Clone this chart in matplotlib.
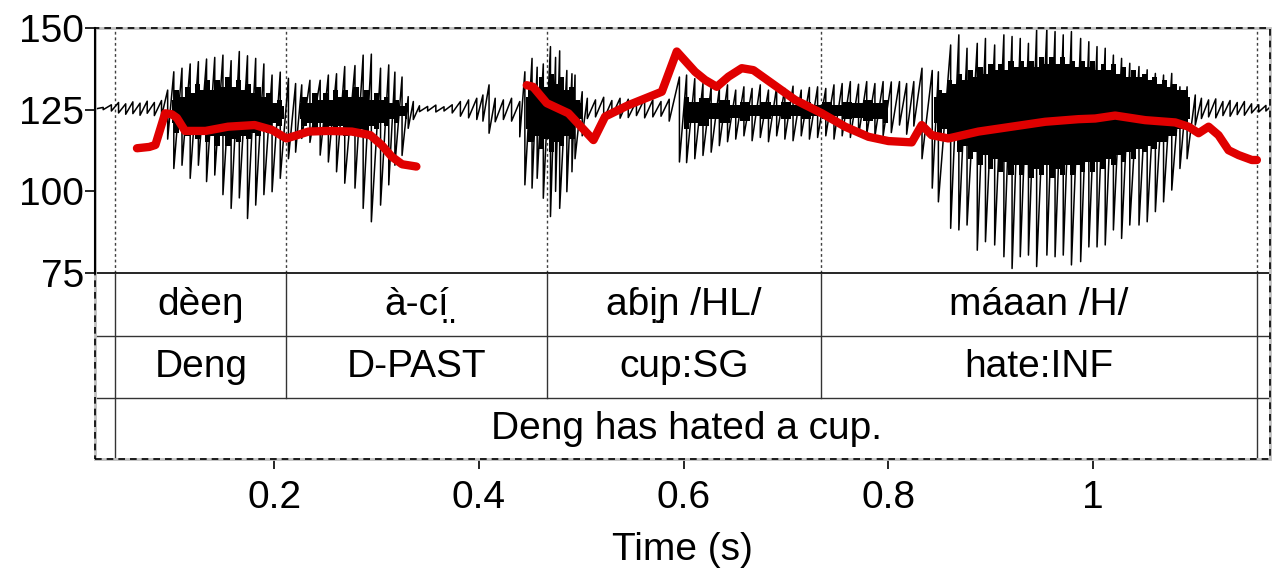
import numpy as np
import matplotlib
matplotlib.use("Agg")
import matplotlib.pyplot as plt
from matplotlib.patches import Rectangle

plt.rcParams['font.family'] = ['Liberation Sans', 'DejaVu Sans']

# --- waveform: spike extremes (time s, top, bottom) ---
wave_t = [0.025, 0.033, 0.041, 0.048, 0.055, 0.062, 0.069, 0.076, 0.083, 0.090,
          0.096, 0.102, 0.110, 0.118, 0.126, 0.134, 0.142, 0.150, 0.158, 0.166,
          0.174, 0.182, 0.190, 0.198, 0.206, 0.214, 0.221, 0.227, 0.235, 0.245,
          0.253, 0.261, 0.269, 0.279, 0.287, 0.295, 0.304, 0.312, 0.318, 0.325,
          0.331, 0.336,
          0.342, 0.350, 0.358, 0.366, 0.374, 0.382, 0.390, 0.398, 0.404, 0.410,
          0.416, 0.424, 0.432, 0.440,
          0.445, 0.452, 0.457, 0.463, 0.470, 0.475, 0.479, 0.486, 0.491, 0.494,
          0.501,
          0.506, 0.514, 0.522, 0.530, 0.538, 0.546, 0.554, 0.562, 0.570, 0.578,
          0.586,
          0.596, 0.603, 0.611, 0.619, 0.627, 0.635, 0.643, 0.651, 0.659, 0.667,
          0.675, 0.683, 0.691, 0.699, 0.707, 0.715, 0.723, 0.731, 0.739, 0.747,
          0.755, 0.763, 0.771, 0.779, 0.787, 0.795, 0.803,
          0.811, 0.818, 0.825, 0.833, 0.843, 0.849, 0.861, 0.869, 0.877, 0.887,
          0.895, 0.904, 0.913, 0.921, 0.929, 0.937, 0.945, 0.955, 0.963, 0.971,
          0.979, 0.988, 0.996, 1.004, 1.012, 1.020, 1.028, 1.036, 1.045, 1.053,
          1.061, 1.069, 1.077, 1.085, 1.092, 1.100,
          1.106, 1.113, 1.120, 1.127, 1.134, 1.141, 1.148, 1.155, 1.162, 1.169,
          1.173]
wave_hi = [125.5, 125.7, 126.5, 127.2, 126.8, 127.4, 127.0, 127.6, 127.2, 127.8,
           131.0, 136.6, 137.7, 139.0, 139.7, 140.5, 141.0, 141.7, 140.0, 142.8,
           141.5, 140.7, 139.0, 135.6, 136.5, 134.6, 133.0, 132.6, 134.0, 134.0,
           135.6, 136.0, 138.2, 138.5, 141.7, 142.0, 137.7, 138.7, 136.5, 135.0,
           129.0, 127.5,
           126.2, 126.0, 126.4, 125.9, 126.5, 127.5, 128.0, 128.5, 129.5, 132.6,
           128.5, 128.0, 128.5, 127.5,
           136.6, 140.7, 138.0, 139.0, 144.3, 141.0, 143.0, 137.0, 136.0, 135.6,
           130.5,
           128.5, 128.0, 128.8, 127.8, 128.5, 128.2, 127.6, 128.4, 128.0, 127.5,
           128.2,
           135.0, 135.6, 134.5, 133.0, 132.0, 131.5, 132.6, 131.0, 132.0, 131.5,
           132.6, 131.0, 132.0, 131.5, 132.2, 131.0, 131.8, 132.0, 131.5, 132.6,
           133.0, 133.6, 132.8, 133.6, 133.0, 133.6, 133.5,
           133.6, 133.0, 133.6, 137.7, 137.0, 136.6, 144.8, 147.9, 143.8, 145.3,
           146.8, 144.8, 147.9, 147.4, 146.8, 145.3, 149.4, 150.0, 148.9, 147.9,
           148.9, 146.8, 145.8, 144.3, 143.8, 141.7, 140.7, 139.2, 138.2, 137.2,
           136.1, 135.6, 136.1, 132.0, 132.0, 129.5,
           128.5, 128.0, 128.3, 127.5, 127.8, 127.2, 127.5, 126.8, 126.5, 126.3,
           125.8]
wave_lo = [125.2, 125.0, 124.6, 124.0, 123.6, 123.8, 123.3, 123.9, 123.2, 123.0,
           116.0, 107.0, 108.0, 104.0, 108.0, 103.0, 105.0, 99.0, 94.8, 98.0,
           91.7, 95.8, 99.0, 99.9, 104.0, 110.0, 112.0, 116.2, 115.0, 111.1,
           109.0, 106.0, 102.5, 101.0, 94.8, 90.7, 95.8, 102.0, 108.0, 111.0,
           119.3, 122.0,
           124.4, 124.6, 124.3, 124.6, 124.0, 123.0, 122.5, 122.0, 121.5, 117.8,
           121.3, 122.0, 121.5, 116.7,
           102.0, 101.0, 104.0, 97.9, 92.3, 100.0, 94.8, 99.9, 106.0, 110.0,
           117.0,
           122.3, 122.8, 122.0, 123.0, 122.4, 122.6, 123.2, 122.5, 122.8, 123.0,
           121.5,
           109.0, 108.8, 110.0, 111.0, 112.0, 114.0, 115.2, 116.0, 117.0, 115.5,
           116.5, 115.2, 117.0, 116.0, 115.5, 117.0, 116.0, 116.5, 117.0, 116.0,
           117.0, 116.5, 117.0, 117.5, 116.8, 117.0, 118.0,
           120.3, 117.5, 120.0, 110.0, 101.0, 96.8, 88.7, 88.2, 89.7, 82.0,
           84.6, 83.6, 80.0, 76.4, 80.0, 80.5, 77.0, 80.5, 80.0, 80.5,
           77.5, 78.5, 83.0, 83.0, 83.6, 88.2, 85.6, 89.7, 89.7, 90.7,
           93.8, 96.8, 100.4, 107.0, 110.0, 120.3,
           122.3, 122.8, 122.5, 123.2, 123.0, 123.5, 123.3, 124.0, 124.3, 124.6,
           125.0]

# dense black body of the loud stretches, 5 ms columns (nan = gap)
core_t = [0.100, 0.105, 0.110, 0.115, 0.120, 0.125, 0.130, 0.135, 0.140, 0.145,
          0.150, 0.155, 0.160, 0.165, 0.170, 0.175, 0.180, 0.185, 0.190, 0.195,
          0.200, 0.205, 0.210, np.nan,
          0.225, 0.230, 0.235, 0.240, 0.245, 0.250, 0.255, 0.260, 0.265, 0.270,
          0.275, 0.280, 0.285, 0.290, 0.295, 0.300, 0.305, 0.310, 0.315, 0.320,
          0.325, 0.330, np.nan,
          0.446, 0.451, 0.456, 0.461, 0.466, 0.471, 0.476, 0.481, 0.486, 0.491,
          0.496, 0.501, np.nan,
          0.600, 0.610, 0.620, 0.630, 0.640, 0.650, 0.660, 0.670, 0.680, 0.690,
          0.700, 0.710, 0.720, 0.730, 0.740, 0.750, 0.760, 0.770, 0.780, 0.790,
          0.800, np.nan,
          0.845, 0.850, 0.855, 0.860, 0.865, 0.870, 0.875, 0.880, 0.885, 0.890,
          0.895, 0.900, 0.905, 0.910, 0.915, 0.920, 0.925, 0.930, 0.935, 0.940,
          0.945, 0.950, 0.955, 0.960, 0.965, 0.970, 0.975, 0.980, 0.985, 0.990,
          0.995, 1.000, 1.005, 1.010, 1.015, 1.020, 1.025, 1.030, 1.035, 1.040,
          1.045, 1.050, 1.055, 1.060, 1.065, 1.070, 1.075, 1.080, 1.085, 1.090,
          1.095]
core_top = [128, 131, 129, 132, 130, 133, 131, 134, 131, 134,
            132, 135, 132, 134, 131, 133, 130, 132, 129, 130,
            127, 128, 126, np.nan,
            127, 129, 127, 130, 128, 130, 128, 131, 129, 131,
            129, 132, 129, 131, 128, 130, 128, 129, 127, 128,
            126, 127, np.nan,
            129, 133, 131, 135, 132, 136, 133, 135, 131, 132,
            128, 127, np.nan,
            129, 127.5, 128.5, 127, 128, 126.5, 127.5, 126.5, 127.5, 126.5,
            127.5, 126.5, 127.5, 126.5, 127.5, 126.5, 127.5, 127, 128, 127,
            128, np.nan,
            129, 131, 130, 134, 133, 136, 134, 137, 135, 138,
            136, 139, 137, 139, 137, 140, 138, 140, 138, 140,
            138, 141, 139, 141, 139, 141, 139, 140, 138, 140,
            138, 140, 137, 139, 137, 139, 136, 138, 135, 137,
            135, 136, 134, 135, 133, 134, 132, 133, 131, 131,
            129]
core_bot = [121, 118, 120, 117, 119, 116, 118, 115, 117, 114,
            117, 114, 116, 115, 117, 116, 118, 117, 119, 118,
            121, 120, 122, np.nan,
            122, 120, 121, 119, 121, 118, 120, 118, 120, 117,
            119, 117, 119, 118, 120, 119, 121, 120, 122, 121,
            123, 122, np.nan,
            119, 115, 117, 113, 116, 112, 115, 114, 117, 116,
            120, 122, np.nan,
            119, 121, 120, 122, 121, 122.5, 121.5, 123, 122, 123,
            122, 123, 122, 123, 122, 123, 122, 122.5, 121.5, 122,
            121, np.nan,
            121, 118, 119, 115, 116, 112, 114, 110, 112, 108,
            111, 107, 110, 106, 109, 105, 108, 105, 108, 104,
            107, 105, 108, 104, 107, 105, 108, 105, 108, 106,
            109, 106, 109, 107, 110, 108, 111, 109, 112, 110,
            113, 112, 114, 113, 115, 115, 117, 117, 119, 120,
            122]

# --- pitch track (Hz), two voiced stretches ---
pitch1_t = [0.066, 0.078, 0.084, 0.0935, 0.100, 0.105, 0.113, 0.133, 0.155, 0.181,
            0.198, 0.212, 0.2205, 0.2335, 0.253, 0.276, 0.294, 0.305, 0.315, 0.325,
            0.339]
pitch1_f = [113.2, 113.6, 114.2, 123.9, 123.6, 122.5, 118.5, 118.5, 119.8, 120.3,
            118.8, 116.2, 117.0, 118.3, 118.5, 118.3, 117.2, 114.2, 110.6, 108.3,
            107.6]
pitch2_t = [0.4468, 0.453, 0.4664, 0.4876, 0.512, 0.5234, 0.5462, 0.5788, 0.5934, 0.6113,
            0.6211, 0.6325, 0.6439, 0.6569, 0.6683, 0.6862, 0.709, 0.7351, 0.7579, 0.7807,
            0.8002, 0.823, 0.8327, 0.8425, 0.8588, 0.8881, 0.9207, 0.9533, 0.9858, 1.0022,
            1.0217, 1.051, 1.0804, 1.0934, 1.1032, 1.113, 1.1227, 1.1325, 1.1423, 1.1553,
            1.1602]
pitch2_f = [132.5, 132.0, 127.0, 123.9, 115.7, 122.9, 126.4, 130.5, 142.8, 136.6,
            134.1, 132.0, 135.1, 137.7, 137.1, 133.1, 128.0, 123.9, 119.8, 116.7,
            115.4, 115.0, 120.3, 117.2, 116.2, 118.3, 119.8, 121.3, 122.1, 122.3,
            123.2, 121.8, 121.1, 119.8, 117.8, 119.8, 117.2, 112.6, 111.1, 109.6,
            109.6]

# --- text grid ---
bounds = [0.045, 0.2117, 0.4667, 0.7344, 1.160]
words = ["dèeŋ", "à-c\u00ed\u0324", "aɓi\u0324ɲ /HL/", "máaan /H/"]
glosses = ["Deng", "D-PAST", "cup:SG", "hate:INF"]
translation = "Deng has hated a cup."

y_ticks = [75, 100, 125, 150]
x_ticks = [0.2, 0.4, 0.6, 0.8, 1.0]
x_ticklabels = ["0.2", "0.4", "0.6", "0.8", "1"]

FS = 28
tier_y = [75, 55.7, 36.7, 18.1]

fig = plt.figure(figsize=(12.74, 5.68), dpi=100)
ax = fig.add_axes([95/1274, 1-459/568, 1175/1274, 431/568])
ax.set_xlim(0.025, 1.173)
ax.set_ylim(tier_y[-1], 150)
for s in ax.spines.values():
    s.set_visible(False)

# waveform
xs = np.repeat(wave_t, 2)
ys = np.column_stack([wave_hi, wave_lo]).ravel()
ax.plot(xs, ys, color='black', lw=1.1, zorder=2)

ct = np.array(core_t)
ctop = np.array(core_top)
cbot = np.array(core_bot)
gaps = np.where(np.isnan(ct))[0]
start = 0
for g in list(gaps) + [len(ct)]:
    ax.fill_between(ct[start:g], cbot[start:g], ctop[start:g], step='mid',
                    color='black', lw=0, zorder=2)
    start = g + 1

# pitch
for pt, pf in [(pitch1_t, pitch1_f), (pitch2_t, pitch2_f)]:
    ax.plot(pt, pf, color='#e00000', lw=6, solid_capstyle='round',
            solid_joinstyle='round', zorder=3)

# interval boundaries: dotted in the signal part
for b in bounds:
    ax.plot([b, b], [75, 150], color='0.25', lw=1, ls=(0, (2, 2)), zorder=1)

# tier lines
ax.plot([0.025, 1.173], [75, 75], color='black', lw=1.2)
for y in tier_y[1:3]:
    ax.plot([0.025, 1.173], [y, y], color='0.2', lw=1)
for b in bounds:
    if b in (bounds[0], bounds[-1]):
        ax.plot([b, b], [tier_y[3], 75], color='0.2', lw=1)
    else:
        ax.plot([b, b], [tier_y[2], 75], color='0.2', lw=1)

for i in range(len(words)):
    xm = (bounds[i] + bounds[i+1]) / 2
    ax.text(xm, (tier_y[0] + tier_y[1]) / 2, words[i], ha='center', va='center',
            fontsize=FS, family=['Liberation Sans', 'DejaVu Sans'])
    ax.text(xm, (tier_y[1] + tier_y[2]) / 2, glosses[i], ha='center', va='center',
            fontsize=FS)
ax.text((bounds[0] + bounds[-1]) / 2, (tier_y[2] + tier_y[3]) / 2, translation,
        ha='center', va='center', fontsize=FS)

# frame: dashed outer box, solid left axis on the signal part
ax.add_patch(Rectangle((0, 0), 1, 1, transform=ax.transAxes, fill=False,
                       ec='0.75', lw=2, clip_on=False, zorder=4))
ax.add_patch(Rectangle((0, 0), 1, 1, transform=ax.transAxes, fill=False,
                       ec='black', lw=1.2, ls=(0, (4, 3)), clip_on=False, zorder=5))
ax.plot([0.025, 0.025], [75, 150], color='black', lw=1.5, clip_on=False, zorder=5)

ax.set_yticks(y_ticks)
ax.set_yticklabels([str(v) for v in y_ticks])
ax.set_xticks(x_ticks)
ax.set_xticklabels(x_ticklabels)
ax.tick_params(axis='y', direction='out', length=7, width=1.2, labelsize=FS, pad=1)
ax.tick_params(axis='x', direction='out', length=7, width=1.2, labelsize=FS, pad=8)
ax.set_xlabel("Time (s)", fontsize=FS, labelpad=12)

fig.savefig("out.png", dpi=100)
